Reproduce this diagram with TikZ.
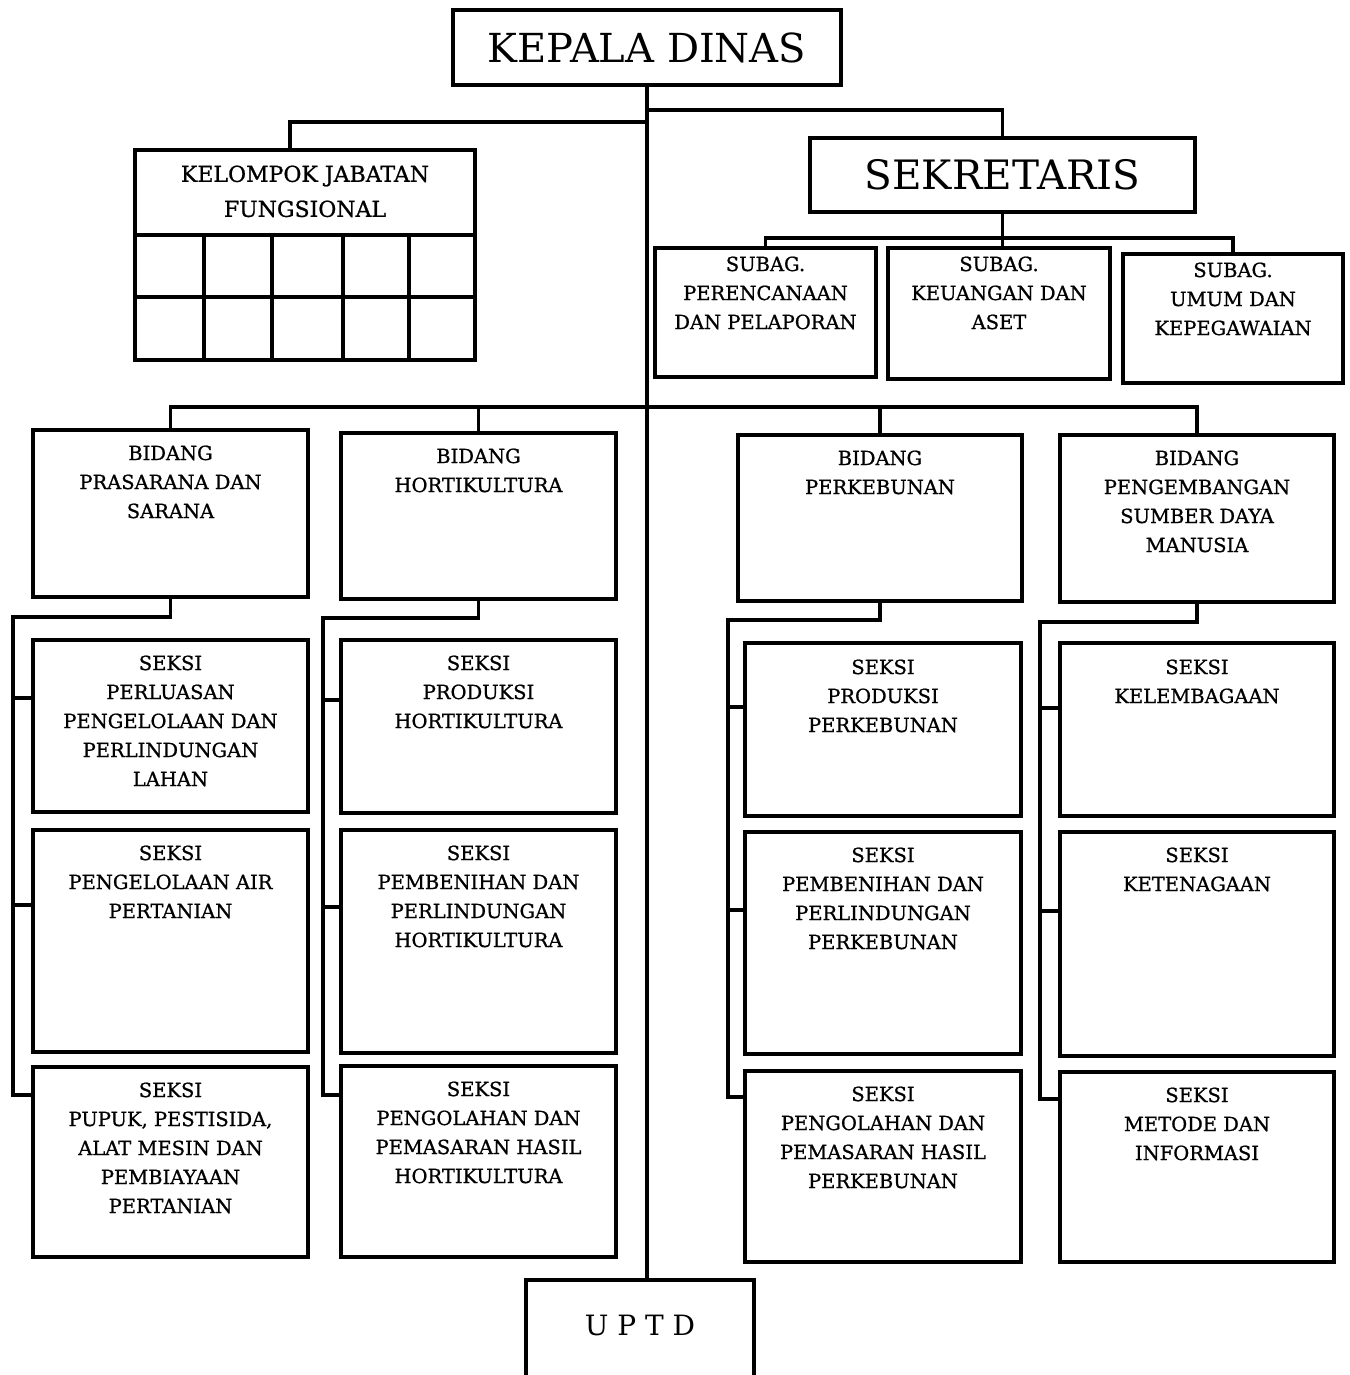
\documentclass[tikz,border=0pt]{standalone}
\usepackage{fontspec}
\setmainfont{DejaVu Serif}
\newfontfamily\heavyf[FakeBold=0.9]{DejaVu Serif}
\newcommand\obox[7][-17]{%
  \node[box, minimum width={(#5-#3)*1pt}, minimum height={(#6-#4)*1pt},
        label={[lbl,yshift=#1pt]north:{#7}}] (#2) at ({(#3+#5)/2},{(#4+#6)/2}) {};}
\begin{document}
\begin{tikzpicture}[x=1pt,y=-1pt,
  box/.style={draw, line width=3.3pt, rectangle, inner sep=0pt},
  lbl/.style={anchor=north, align=center, inner sep=0pt, font=\heavyf\fontsize{19.5}{29}\selectfont},
  conn/.style={line width=3.3pt, line cap=rect}]
\useasboundingbox (0,0) rectangle (1349,1375);

% top level
\node[box, minimum width=388pt, minimum height=75pt, font=\fontsize{40}{42}\selectfont] (kd) at (647,47.5) {KEPALA DINAS};
\node[box, minimum width=385pt, minimum height=74pt, font=\fontsize{40.5}{42}\selectfont] (sek) at (1002.5,175) {SEKRETARIS};

% kelompok jabatan fungsional
\node[box, minimum width=340pt, minimum height=210pt,
      label={[lbl, font=\heavyf\fontsize{22}{35}\selectfont, yshift=-17pt]north:{KELOMPOK JABATAN\\FUNGSIONAL}}] (kfg) at (305,255) {};
\draw[line width=3.3pt] (135,235) -- (475,235);
\draw[line width=3.3pt] (135,297) -- (475,297);
\foreach \gx in {204,272,343,409} \draw[line width=3.3pt] (\gx,235) -- (\gx,360);

% subag
\obox[-10]{sb1}{655}{248}{876}{377}{SUBAG.\\PERENCANAAN\\DAN PELAPORAN}
\obox[-10]{sb2}{888}{248}{1110}{379}{SUBAG.\\KEUANGAN DAN\\ASET}
\obox[-10]{sb3}{1123}{254}{1343}{383}{SUBAG.\\UMUM DAN\\KEPEGAWAIAN}

% bidang
\obox{b1}{33}{430}{308}{597}{BIDANG\\PRASARANA DAN\\SARANA}
\obox{b2}{341}{433}{616}{599}{BIDANG\\HORTIKULTURA}
\obox{b3}{738}{435}{1022}{601}{BIDANG\\PERKEBUNAN}
\obox{b4}{1060}{435}{1334}{602}{BIDANG\\PENGEMBANGAN\\SUMBER DAYA\\MANUSIA}

% seksi column 1
\obox{s11}{33}{640}{308}{812}{SEKSI\\PERLUASAN\\PENGELOLAAN DAN\\PERLINDUNGAN\\LAHAN}
\obox{s12}{33}{830}{308}{1052}{SEKSI\\PENGELOLAAN AIR\\PERTANIAN}
\obox{s13}{33}{1067}{308}{1257}{SEKSI\\PUPUK, PESTISIDA,\\ALAT MESIN DAN\\PEMBIAYAAN\\PERTANIAN}
% column 2
\obox{s21}{341}{640}{616}{813}{SEKSI\\PRODUKSI\\HORTIKULTURA}
\obox{s22}{341}{830}{616}{1053}{SEKSI\\PEMBENIHAN DAN\\PERLINDUNGAN\\HORTIKULTURA}
\obox{s23}{341}{1066}{616}{1257}{SEKSI\\PENGOLAHAN DAN\\PEMASARAN HASIL\\HORTIKULTURA}
% column 3
\obox[-18]{s31}{745}{643}{1021}{816}{SEKSI\\PRODUKSI\\PERKEBUNAN}
\obox{s32}{745}{832}{1021}{1054}{SEKSI\\PEMBENIHAN DAN\\PERLINDUNGAN\\PERKEBUNAN}
\obox{s33}{745}{1071}{1021}{1262}{SEKSI\\PENGOLAHAN DAN\\PEMASARAN HASIL\\PERKEBUNAN}
% column 4
\obox[-18]{s41}{1060}{643}{1334}{816}{SEKSI\\KELEMBAGAAN}
\obox{s42}{1060}{832}{1334}{1056}{SEKSI\\KETENAGAAN}
\obox{s43}{1060}{1072}{1334}{1262}{SEKSI\\METODE DAN\\INFORMASI}

% UPTD
\node[box, minimum width=228pt, minimum height=130pt,
      label={[lbl, font=\fontsize{28}{30}\selectfont, yshift=-37pt]north:{U P T D}}] (uptd) at (640,1345) {};

% connectors
\draw[conn] (kd.south) -- (kd.south |- uptd.north);
\draw[conn] (kd.south |- 0,122) -| (kfg.north -| 290,0);
\draw[conn] (kd.south |- 0,110) -| (sek.north);
\draw[conn] (sek.south) -- (sek.south |- sb2.north);
\draw[conn] (sb1.north) |- (sb3.north |- 0,238) -- (sb3.north);
\draw[conn] (b1.north) |- (b4.north |- 0,407) -- (b4.north);
\draw[conn] (b2.north) -- (b2.north |- 0,407);
\draw[conn] (b3.north) -- (b3.north |- 0,407);

\coordinate (j1) at (13,617);
\coordinate (j2) at (323,618);
\coordinate (j3) at (728,620);
\coordinate (j4) at (1040,622);

\draw[conn] (b1.south) |- (j1) |- (s13.west |- 0,1095);
\draw[conn] (j1 |- 0,698) -- (s11.west |- 0,698);
\draw[conn] (j1 |- 0,905) -- (s12.west |- 0,905);

\draw[conn] (b2.south) |- (j2) |- (s23.west |- 0,1095);
\draw[conn] (j2 |- 0,700) -- (s21.west |- 0,700);
\draw[conn] (j2 |- 0,907) -- (s22.west |- 0,907);

\draw[conn] (b3.south) |- (j3) |- (s33.west |- 0,1097);
\draw[conn] (j3 |- 0,707) -- (s31.west |- 0,707);
\draw[conn] (j3 |- 0,910) -- (s32.west |- 0,910);

\draw[conn] (b4.south) |- (j4) |- (s43.west |- 0,1099);
\draw[conn] (j4 |- 0,708) -- (s41.west |- 0,708);
\draw[conn] (j4 |- 0,911) -- (s42.west |- 0,911);
\end{tikzpicture}
\end{document}
